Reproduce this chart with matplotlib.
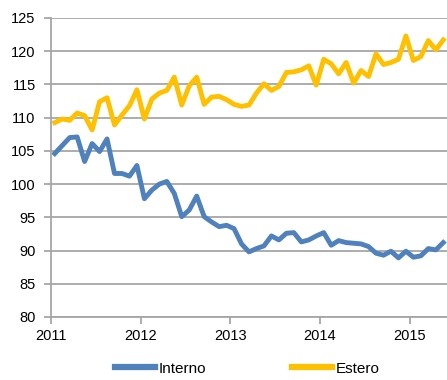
import matplotlib
matplotlib.use("Agg")
import matplotlib.pyplot as plt
from matplotlib import font_manager

# monthly index, Jan 2011 .. May 2015
interno = [104.6, 105.8, 107.0, 107.1, 103.4, 106.1, 104.9, 106.8, 101.6, 101.6,
           101.2, 102.8, 97.8, 99.1, 100.0, 100.4, 98.6, 95.1, 96.1, 98.2,
           95.1, 94.3, 93.6, 93.8, 93.3, 91.0, 89.8, 90.3, 90.7, 92.2,
           91.6, 92.6, 92.7, 91.3, 91.6, 92.2, 92.7, 90.8, 91.5, 91.2,
           91.1, 91.0, 90.6, 89.6, 89.3, 89.9, 88.9, 89.9, 89.0, 89.2,
           90.3, 90.1, 91.2]
estero = [109.25, 109.8, 109.6, 110.7, 110.3, 108.15, 112.4, 113.0, 108.9, 110.4,
          111.8, 114.2, 109.8, 112.8, 113.7, 114.1, 116.1, 111.9, 114.8, 116.1,
          112.0, 113.1, 113.2, 112.7, 112.0, 111.7, 111.9, 113.7, 115.1, 114.1,
          114.7, 116.8, 116.9, 117.2, 117.8, 114.9, 118.8, 118.1, 116.6, 118.3,
          115.2, 117.1, 116.2, 119.6, 118.0, 118.3, 118.8, 122.3, 118.6, 119.2,
          121.6, 120.2, 121.7]
years = ["2011", "2012", "2013", "2014", "2015"]
y_ticks = [80, 85, 90, 95, 100, 105, 110, 115, 120, 125]

installed = {f.name for f in font_manager.fontManager.ttflist}
family = "Liberation Sans Narrow" if "Liberation Sans Narrow" in installed else "Liberation Sans"
plt.rcParams["font.family"] = [family, "DejaVu Sans"]

W, H = 447, 380
fig = plt.figure(figsize=(W / 100, H / 100), dpi=100)
ax = fig.add_axes([51 / W, 1 - 317 / H, 1 - 51 / W, (317 - 18) / H])

x = [m + 0.5 for m in range(len(interno))]
ax.plot(x, interno, color="#4F81BD", lw=3.5, label="Interno", solid_joinstyle="round")
ax.plot(x, estero, color="#FFC000", lw=3.5, label="Estero", solid_joinstyle="round")

ax.set_xlim(0, 53)
ax.set_ylim(80, 125)
ax.set_yticks(y_ticks)
ax.set_xticks([12 * i for i in range(len(years))])
ax.set_xticklabels(years)

grid_col = "#A6A6A6"
ax.yaxis.grid(True, color=grid_col, lw=1.3)
ax.set_axisbelow(True)
for side in ("top", "right"):
    ax.spines[side].set_visible(False)
for side in ("left", "bottom"):
    ax.spines[side].set_color(grid_col)
    ax.spines[side].set_linewidth(1.3)
ax.tick_params(axis="both", colors=grid_col, labelcolor="black", labelsize=10.5,
               length=5, width=1.3)
ax.tick_params(axis="y", pad=6)
ax.tick_params(axis="x", pad=4)

leg = fig.legend(loc="lower center", bbox_to_anchor=(0.553, -0.025), ncol=2,
                 frameon=False, fontsize=11, handlelength=2.6, columnspacing=5.6,
                 handletextpad=0.25)
for line in leg.get_lines():
    line.set_linewidth(4.5)

fig.savefig("out.png", dpi=100)
